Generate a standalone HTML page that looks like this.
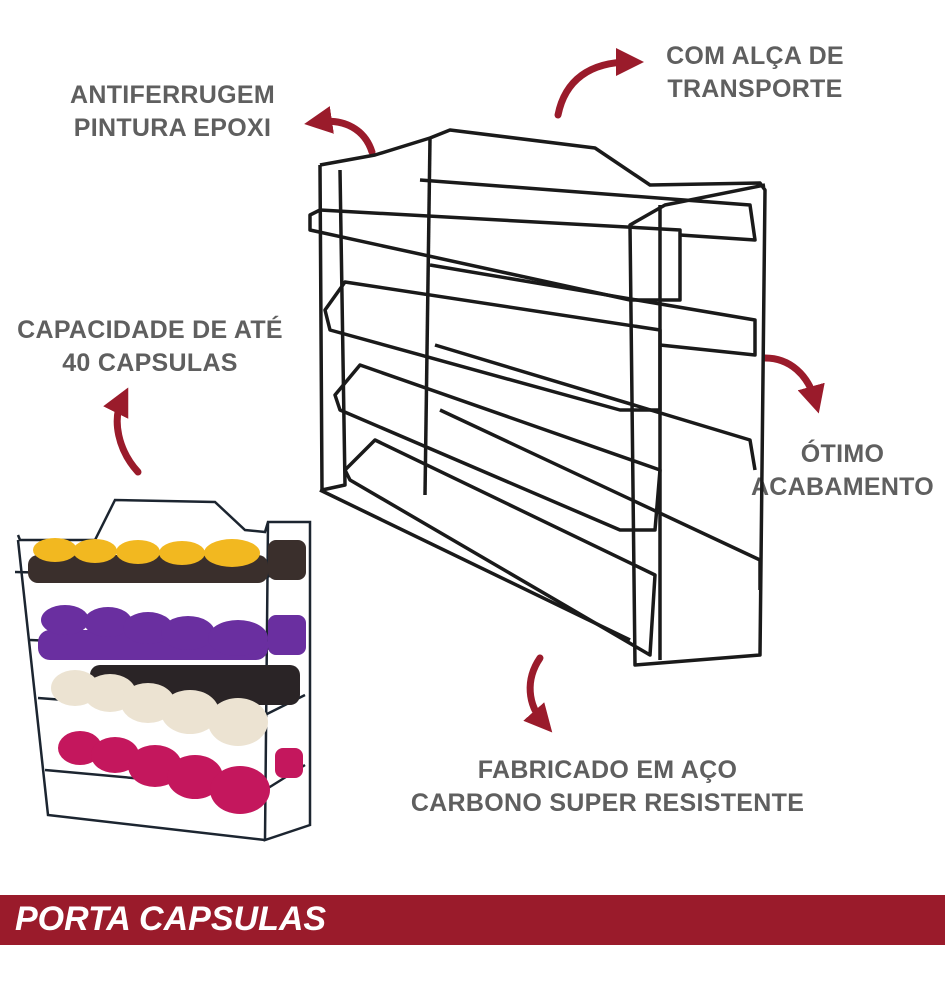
<!DOCTYPE html>
<html><head><meta charset="utf-8"><style>
body{margin:0;width:945px;height:1000px;background:#fff;position:relative;overflow:hidden;font-family:"Liberation Sans",sans-serif}
.t{position:absolute;color:#5f5f5f;font-weight:bold;font-size:25px;text-align:center;line-height:33px;letter-spacing:0.3px}
.ban{position:absolute;left:0;top:895px;width:945px;height:50px;background:#9a1b2b}
.ban span{position:absolute;left:15px;top:5px;color:#fff;font-style:italic;font-weight:bold;font-size:34px;letter-spacing:0}
svg{position:absolute;left:0;top:0}
</style></head><body>
<div class="t" style="left:40px;top:79px;width:265px">ANTIFERRUGEM<br>PINTURA EPOXI</div>
<div class="t" style="left:630px;top:40px;width:250px">COM ALÇA DE<br>TRANSPORTE</div>
<div class="t" style="left:5px;top:314px;width:290px">CAPACIDADE DE ATÉ<br>40 CAPSULAS</div>
<div class="t" style="left:745px;top:438px;width:195px">ÓTIMO<br>ACABAMENTO</div>
<div class="t" style="left:410px;top:754px;width:395px">FABRICADO EM AÇO<br>CARBONO SUPER RESISTENTE</div>
<div class="ban"><span>PORTA CAPSULAS</span></div>
<svg width="945" height="1000" viewBox="0 0 945 1000">
<defs><marker id="a" markerWidth="4" markerHeight="4" refX="2" refY="2" orient="auto" markerUnits="strokeWidth"><path d="M0,0 L4,2 L0,4 z" fill="#9a1b2b"/></marker></defs>
<g fill="none" stroke="#9a1b2b" stroke-width="7" stroke-linecap="round">
<path d="M372,152 C365,130 345,118 318,122" marker-end="url(#a)"/>
<path d="M558,115 C565,80 590,62 630,62" marker-end="url(#a)"/>
<path d="M138,472 C118,450 112,420 122,400" marker-end="url(#a)"/>
<path d="M765,358 C790,358 808,375 815,400" marker-end="url(#a)"/>
<path d="M540,658 C525,680 528,705 543,722" marker-end="url(#a)"/>
</g>
<g fill="none" stroke="#1a1a1a" stroke-width="3.5" stroke-linejoin="round">
<path d="M320,165 L375,155 L430,138 L450,130 L595,148 L650,185 L760,183 L765,190 L760,655 L635,665 L630,225 L665,205 L765,185"/>
<path d="M320,165 L322,490 L345,485 L340,170"/>
<path d="M660,205 L660,660"/>
<path d="M430,138 L425,495"/>
<path d="M310,215 L320,210 L680,230 L680,300 L630,300 L310,230 Z"/>
<path d="M420,180 L750,205 L755,240 L680,235"/>
<path d="M325,310 L345,282 L660,330 L660,410 L620,410 L330,330 Z"/>
<path d="M430,265 L755,320 L755,355 L660,345"/>
<path d="M335,395 L360,365 L660,470 L655,530 L620,530 L340,410 Z"/>
<path d="M435,345 L750,440 L755,470"/>
<path d="M345,470 L375,440 L655,575 L650,655 L350,480 Z"/>
<path d="M440,410 L760,560 L760,590"/>
<path d="M320,490 L630,640"/>
</g>
<g fill="none" stroke="#1c2530" stroke-width="2.5">
<path d="M18,535 L20,540 L95,540 L115,500 L215,502 L245,530 L265,532 L268,522 L310,522 L310,825 L265,840 L268,522"/>
<path d="M18,540 L48,815 L265,840"/>
<path d="M15,572 L265,578 L305,560"/>
<path d="M30,640 L265,650 L305,630"/>
<path d="M38,698 L265,715 L305,695"/>
<path d="M45,770 L265,790 L305,765"/>
</g>
<g>
<g fill="#3a2f2c"><rect x="28" y="555" width="240" height="28" rx="10"/><rect x="268" y="540" width="38" height="40" rx="8"/></g>
<g fill="#f2b820"><ellipse cx="55" cy="550" rx="22" ry="12"/><ellipse cx="95" cy="551" rx="22" ry="12"/><ellipse cx="138" cy="552" rx="22" ry="12"/><ellipse cx="182" cy="553" rx="23" ry="12"/><ellipse cx="232" cy="553" rx="28" ry="14"/></g>
<g fill="#6a2fa0"><rect x="38" y="630" width="230" height="30" rx="12"/><rect x="268" y="615" width="38" height="40" rx="8"/><ellipse cx="65" cy="620" rx="24" ry="15"/><ellipse cx="108" cy="622" rx="24" ry="15"/><ellipse cx="148" cy="628" rx="25" ry="16"/><ellipse cx="188" cy="633" rx="27" ry="17"/><ellipse cx="238" cy="638" rx="30" ry="18"/></g>
<g fill="#2a2426"><rect x="90" y="665" width="210" height="40" rx="10"/></g>
<g fill="#ece3d2"><ellipse cx="75" cy="688" rx="24" ry="18"/><ellipse cx="110" cy="693" rx="26" ry="19"/><ellipse cx="148" cy="703" rx="27" ry="20"/><ellipse cx="190" cy="712" rx="29" ry="22"/><ellipse cx="238" cy="722" rx="30" ry="24"/></g>
<g fill="#c4175d"><rect x="275" y="748" width="28" height="30" rx="8"/><ellipse cx="80" cy="748" rx="22" ry="17"/><ellipse cx="115" cy="755" rx="24" ry="18"/><ellipse cx="155" cy="766" rx="27" ry="21"/><ellipse cx="195" cy="777" rx="28" ry="22"/><ellipse cx="240" cy="790" rx="30" ry="24"/></g>
</g>
</svg>
</body></html>
